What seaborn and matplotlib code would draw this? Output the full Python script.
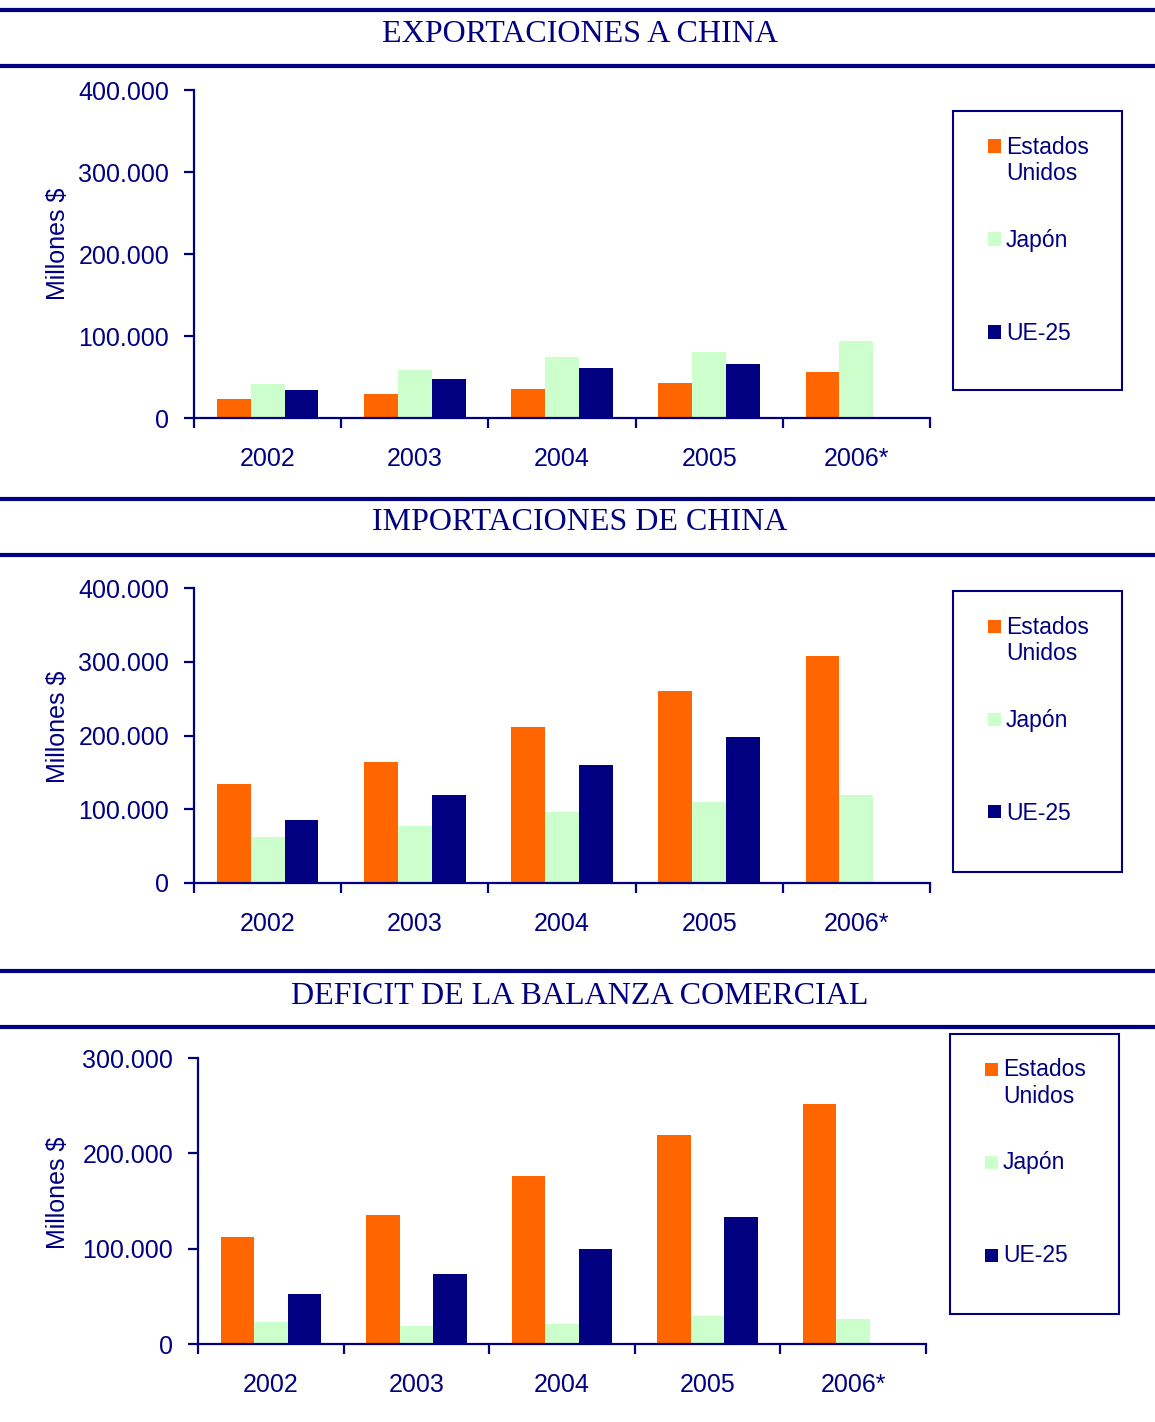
import matplotlib
matplotlib.use("Agg")
import matplotlib.pyplot as plt
from matplotlib.patches import Rectangle
from matplotlib.lines import Line2D
from matplotlib.ticker import FuncFormatter, FixedLocator
import numpy as np
import pandas as pd
import seaborn as sns

# ---- data (millones de $) ----
years = ["2002", "2003", "2004", "2005", "2006*"]
regions = ["Estados Unidos", "Japón", "UE-25"]

export_us = [23200, 29700, 35800, 43100, 56500]
export_jp = [41000, 58100, 74800, 80900, 93900]
export_eu = [33700, 48000, 61000, 65400, np.nan]

import_us = [134500, 164500, 212000, 261000, 307500]
import_jp = [63000, 77000, 96000, 110000, 120000]
import_eu = [86000, 120000, 160000, 198000, np.nan]

deficit_us = [112000, 135500, 176700, 218800, 251600]
deficit_jp = [22600, 19200, 21300, 29300, 26500]
deficit_eu = [52600, 73500, 99300, 132800, np.nan]

titles = ["EXPORTACIONES A CHINA", "IMPORTACIONES DE CHINA",
          "DEFICIT DE LA BALANZA COMERCIAL"]
y_max = [400000, 400000, 300000]
y_step = [100000, 100000, 100000]

colors = {"Estados Unidos": "#FF6600", "Japón": "#CCFFCC", "UE-25": "#000080"}
NAVY = "#000080"

W, H = 1155, 1422
sns.set_theme(style="white")
plt.rcParams["font.family"] = ["Liberation Sans", "DejaVu Sans"]

fig = plt.figure(figsize=(W / 100, H / 100), dpi=100)


def fx(px):
    return px / W


def fy(py):
    return 1 - py / H


def long_frame(us, jp, eu):
    rows = []
    for name, vals in zip(regions, (us, jp, eu)):
        for yr, v in zip(years, vals):
            if not np.isnan(v):
                rows.append({"Año": yr, "País": name, "Valor": v})
    return pd.DataFrame(rows)


panels = [
    long_frame(export_us, export_jp, export_eu),
    long_frame(import_us, import_jp, import_eu),
    long_frame(deficit_us, deficit_jp, deficit_eu),
]

# axes boxes in pixels: left, top, right, bottom
axes_px = [(194, 90, 930, 418), (194, 588, 930, 883), (198, 1058, 926, 1344)]
# header rules and title centre lines
rules_px = [(10, 66), (499, 555), (971, 1027)]
title_y = [34, 523, 996]
# legend boxes: left, top, right, bottom
legend_px = [(953, 111, 1122, 390), (953, 591, 1122, 872), (950, 1034, 1119, 1314)]

thousands = FuncFormatter(lambda v, p: f"{int(v):,}".replace(",", "."))

for i, df in enumerate(panels):
    l, t, r, b = axes_px[i]
    ax = fig.add_axes([fx(l), fy(b), fx(r) - fx(l), (b - t) / H])
    sns.barplot(data=df, x="Año", y="Valor", hue="País", order=years,
                hue_order=regions, palette=colors, width=0.69, saturation=1,
                errorbar=None, linewidth=0, legend=False, ax=ax)
    ax.set_xlim(-0.5, len(years) - 0.5)
    ax.set_ylim(0, y_max[i])
    ax.yaxis.set_major_locator(FixedLocator(np.arange(0, y_max[i] + 1, y_step[i])))
    ax.yaxis.set_major_formatter(thousands)
    ax.xaxis.set_minor_locator(FixedLocator(np.arange(-0.5, len(years), 1.0)))

    for s in ("top", "right"):
        ax.spines[s].set_visible(False)
    for s in ("left", "bottom"):
        ax.spines[s].set_color(NAVY)
        ax.spines[s].set_linewidth(1.6)

    ax.tick_params(axis="y", direction="out", length=7, width=1.6,
                   color=NAVY, labelcolor=NAVY, labelsize=18, pad=11, left=True)
    ax.tick_params(axis="x", which="major", length=0, labelcolor=NAVY,
                   labelsize=18, pad=21)
    ax.tick_params(axis="x", which="minor", direction="out", length=7,
                   width=1.6, color=NAVY, bottom=True)
    ax.set_xlabel("")
    ax.set_ylabel("Millones $", color=NAVY, fontsize=18)
    ax.yaxis.set_label_coords((70 - l) / (r - l), 0.53)
    ax.set_facecolor("white")

    # header rules and title
    for ry in rules_px[i]:
        fig.add_artist(Line2D([0, 1], [fy(ry), fy(ry)], color=NAVY,
                              linewidth=3, transform=fig.transFigure))
    fig.text(fx(580), fy(title_y[i]), titles[i], ha="center", va="center",
             color=NAVY, fontsize=23, family=["Liberation Serif", "DejaVu Serif"])

    # legend box
    lx0, ly0, lx1, ly1 = legend_px[i]
    fig.add_artist(Rectangle((fx(lx0), fy(ly1)), fx(lx1) - fx(lx0), (ly1 - ly0) / H,
                             transform=fig.transFigure, facecolor="white",
                             edgecolor=NAVY, linewidth=1.5))
    entries = [("Estados Unidos", ["Estados", "Unidos"], 35),
               ("Japón", ["Japón"], 128),
               ("UE-25", ["UE-25"], 221)]
    for name, lines, dy in entries:
        cy = ly0 + dy
        sq = 13
        fig.add_artist(Rectangle((fx(lx0 + 35), fy(cy + sq / 2)), sq / W, sq / H,
                                 transform=fig.transFigure,
                                 facecolor=colors[name], edgecolor="none"))
        for k, txt in enumerate(lines):
            fig.text(fx(lx0 + 53), fy(cy + 1 + k * 26.5), txt, ha="left",
                     va="center", color=NAVY, fontsize=16.5)

fig.savefig("out.png", dpi=100, facecolor="white")
